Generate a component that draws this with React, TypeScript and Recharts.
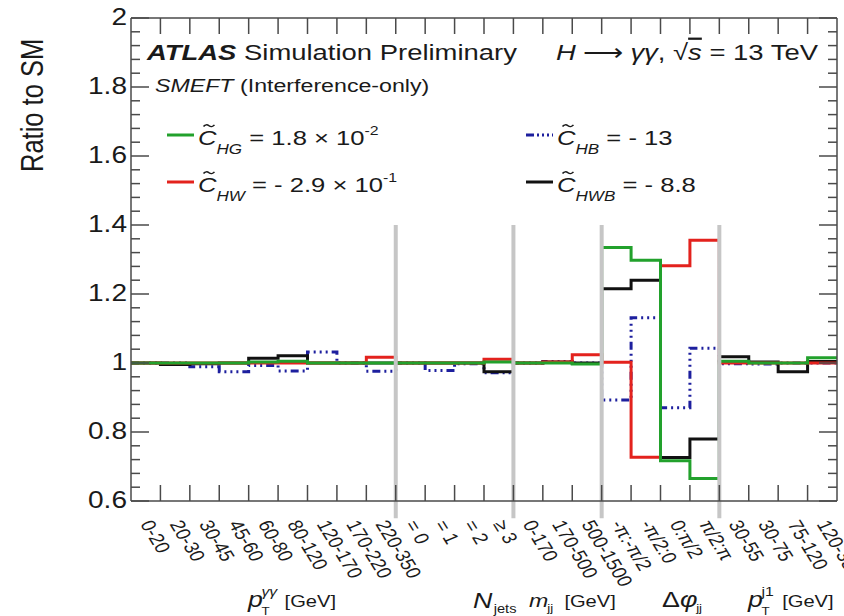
import React from 'react';
import { LineChart, Line, XAxis, YAxis, ReferenceLine } from 'recharts';

// Bin labels of the combined differential distributions
const binLabels = [
  '0-20', '20-30', '30-45', '45-60', '60-80', '80-120', '120-170', '170-220', '220-350',
  '= 0', '= 1', '= 2', '≥ 3',
  '0-170', '170-500', '500-1500',
  '-π:-π/2', '-π/2:0', '0:π/2', 'π/2:π',
  '30-55', '30-75', '75-120', '120-350',
];
// Bin edges where one observable ends and the next begins
const groupBoundaries = [9, 13, 16, 20];

// Ratio to SM per bin for each Wilson coefficient (interference only)
const ratioHG = [
  1.0, 1.0, 1.0, 1.0, 1.003, 1.005, 1.0, 1.0, 1.0,
  1.0, 1.0, 1.0, 1.003,
  1.0, 1.0, 0.997,
  1.335, 1.298, 0.717, 0.665,
  1.005, 1.0, 1.0, 1.015,
];
const ratioHW = [
  1.0, 1.0, 1.0, 1.0, 1.0, 1.0, 1.0, 1.0, 1.017,
  1.0, 1.0, 1.0, 1.011,
  1.0, 1.003, 1.024,
  1.002, 0.727, 1.282, 1.356,
  1.0, 1.0, 1.0, 1.0,
];
const ratioHB = [
  1.0, 1.0, 0.989, 0.975, 0.993, 0.977, 1.032, 1.0, 0.976,
  1.0, 0.978, 0.998, 0.972,
  1.0, 1.004, 1.0,
  0.893, 1.131, 0.870, 1.043,
  0.998, 0.997, 1.0, 1.0,
];
const ratioHWB = [
  1.0, 0.996, 0.998, 1.0, 1.014, 1.021, 1.0, 1.0, 1.0,
  1.0, 1.0, 1.0, 0.975,
  1.0, 1.003, 1.0,
  1.215, 1.240, 0.726, 0.780,
  1.018, 1.003, 0.975, 1.004,
];

// Legend text
const coeffSubscripts = ['HG', 'HW', 'HB', 'HWB'];
const coeffValues = ['1.8 × 10', '- 2.9 × 10', '- 13', '- 8.8'];
const coeffExponents = ['-2', '-1', '', ''];

// Y axis ticks
const yMajorTicks = [0.6, 0.8, 1, 1.2, 1.4, 1.6, 1.8, 2];

const FONT = '"Liberation Sans", Arial, Helvetica, sans-serif';
const SX = 1.22;
const AXIS = '#4a4a4a';
const TEXT = '#1a1a1a';

const seriesStyle: Record<string, { color: string; dash?: string }> = {
  hg: { color: '#22a12c' },
  hw: { color: '#e3221d' },
  hb: { color: '#1d1f9e', dash: '8 4 2 4 2 4 2 4' },
  hwb: { color: '#111111' },
};

const nBins = binLabels.length;
const rows = Array.from({ length: nBins + 1 }, (_, i) => {
  const k = Math.min(i, nBins - 1);
  return { edge: i, hg: ratioHG[k], hw: ratioHW[k], hb: ratioHB[k], hwb: ratioHWB[k] };
});

const edgeTicks = Array.from({ length: nBins - 1 }, (_, i) => i + 1);
const centerTicks = binLabels.map((_, i) => i + 0.5);
const yTicks = Array.from({ length: 36 }, (_, k) => Math.round((0.6 + k * 0.04) * 100) / 100);
const isMajor = (v: number) => yMajorTicks.some((m) => Math.abs(m - v) < 1e-6);

const BottomTick = (props: any) => {
  const { x, y, payload } = props;
  const v = payload.value as number;
  if (Number.isInteger(v)) {
    return <line x1={x} y1={y} x2={x} y2={y - 16} stroke={AXIS} strokeWidth={1.5} />;
  }
  const label = binLabels[Math.floor(v)];
  return (
    <g transform={`translate(${x - 6},${y + 23}) scale(${SX},1) rotate(63)`}>
      <text x={0} y={0} fontSize={17} fontFamily={FONT} fill={TEXT}>{label}</text>
    </g>
  );
};

const TopTick = (props: any) => {
  const { x, y } = props;
  return <line x1={x} y1={y} x2={x} y2={y + 16} stroke={AXIS} strokeWidth={1.5} />;
};

const LeftTick = (props: any) => {
  const { x, y, payload } = props;
  const v = payload.value as number;
  const major = isMajor(v);
  return (
    <g>
      <line x1={x} y1={y} x2={x + (major ? 18 : 9)} y2={y} stroke={AXIS} strokeWidth={1.5} />
      {major && (
        <g transform={`translate(${x - 4},${y + 7}) scale(${SX},1)`}>
          <text x={0} y={0} textAnchor="end" fontSize={23} fontFamily={FONT} fill={TEXT}>
            {String(v)}
          </text>
        </g>
      )}
    </g>
  );
};

const RightTick = (props: any) => {
  const { x, y, payload } = props;
  const major = isMajor(payload.value as number);
  return <line x1={x} y1={y} x2={x - (major ? 18 : 9)} y2={y} stroke={AXIS} strokeWidth={1.5} />;
};

const Stretched = ({ x, y, rotate, children }: any) => (
  <g transform={`translate(${x},${y}) scale(${SX},1)${rotate ? ` rotate(${rotate})` : ''}`}>{children}</g>
);

const LegendEntry = ({ idx, x, y, styleKey }: any) => {
  const st = seriesStyle[styleKey];
  return (
    <g>
      <line x1={x} y1={y - 10} x2={x + 27} y2={y - 10} stroke={st.color} strokeWidth={3}
        strokeDasharray={st.dash ? '8 3 2 3 2 3 2 3' : undefined} />
      <Stretched x={x + 31} y={y}>
        <text x={0} y={0} fontSize={21} fontFamily={FONT} fill={TEXT}>
          <tspan fontStyle="italic">C</tspan>
          <tspan fontStyle="italic" fontSize={14} dy={9}>{coeffSubscripts[idx]}</tspan>
          <tspan dy={-9}>{` = ${coeffValues[idx]}`}</tspan>
          {coeffExponents[idx] && <tspan fontSize={13} dy={-10}>{coeffExponents[idx]}</tspan>}
        </text>
        {/* tilde accent over the C */}
        <path d="M 4.5 -18.5 q 2.2 -3 4.5 -0.8 t 4.5 -0.8" fill="none" stroke={TEXT} strokeWidth={1.3} />
      </Stretched>
    </g>
  );
};

const Overlay = () => (
  <svg width={844} height={616} style={{ position: 'absolute', left: 0, top: 0, pointerEvents: 'none' }}
    fontFamily={FONT} fill={TEXT}>
    {/* y axis title */}
    <Stretched x={43} y={172} rotate={-90}>
      <text x={0} y={0} fontSize={25.5}>Ratio to SM</text>
    </Stretched>

    {/* header */}
    <Stretched x={147} y={60}>
      <text x={0} y={0} fontSize={22.5}>
        <tspan fontWeight="bold" fontStyle="italic">ATLAS</tspan>
        <tspan>{' Simulation Preliminary'}</tspan>
      </text>
    </Stretched>
    <Stretched x={818} y={60}>
      <text x={0} y={0} fontSize={22.5} textAnchor="end">
        <tspan fontStyle="italic">H</tspan>
        <tspan>{' ⟶ '}</tspan>
        <tspan fontStyle="italic">γγ</tspan>
        <tspan>{', √'}</tspan>
        <tspan fontStyle="italic" textDecoration="overline">s</tspan>
        <tspan>{' = 13 TeV'}</tspan>
      </text>
    </Stretched>
    <Stretched x={155} y={92}>
      <text x={0} y={0} fontSize={19}>
        <tspan fontStyle="italic">SMEFT</tspan>
        <tspan>{' (Interference-only)'}</tspan>
      </text>
    </Stretched>

    {/* legend */}
    <LegendEntry idx={0} x={167} y={145} styleKey="hg" />
    <LegendEntry idx={1} x={167} y={192} styleKey="hw" />
    <LegendEntry idx={2} x={526} y={145} styleKey="hb" />
    <LegendEntry idx={3} x={526} y={192} styleKey="hwb" />

    {/* observable titles */}
    <Stretched x={248} y={607}>
      <text x={0} y={0} fontSize={22} fontStyle="italic">p</text>
      <text x={11} y={-11} fontSize={13} fontStyle="italic">γγ</text>
      <text x={11} y={8} fontSize={11}>T</text>
      <text x={30} y={0} fontSize={16.5}>[GeV]</text>
    </Stretched>
    <Stretched x={473} y={608}>
      <text x={0} y={0} fontSize={22} fontStyle="italic">N</text>
      <text x={17} y={5} fontSize={12}>jets</text>
    </Stretched>
    <Stretched x={529} y={607}>
      <text x={0} y={0} fontSize={19} fontStyle="italic">m</text>
      <text x={15} y={5} fontSize={11}>jj</text>
      <text x={29} y={0} fontSize={16.5}>[GeV]</text>
    </Stretched>
    <Stretched x={662} y={607}>
      <text x={0} y={0} fontSize={22}>
        <tspan>Δ</tspan>
        <tspan fontStyle="italic">φ</tspan>
      </text>
      <text x={28} y={5} fontSize={11}>jj</text>
    </Stretched>
    <Stretched x={748} y={607}>
      <text x={0} y={0} fontSize={22} fontStyle="italic">p</text>
      <text x={11} y={-11} fontSize={13}>j1</text>
      <text x={11} y={8} fontSize={11}>T</text>
      <text x={28} y={0} fontSize={16.5}>[GeV]</text>
    </Stretched>
  </svg>
);

export default function App() {
  const order: Array<keyof typeof seriesStyle> = ['hb', 'hwb', 'hw', 'hg'];
  return (
    <div style={{ position: 'absolute', left: 0, top: 0, width: 844, height: 616, background: '#fff' }}>
      <LineChart width={844} height={616} data={rows} margin={{ top: 17, right: 6, bottom: 15, left: 71 }}>
        <XAxis xAxisId="bottom" type="number" dataKey="edge" domain={[0, nBins]} allowDataOverflow
          ticks={[...edgeTicks, ...centerTicks]} interval={0} tickSize={0} tickMargin={0} tickLine={false}
          axisLine={{ stroke: AXIS, strokeWidth: 1.5 }} tick={BottomTick} height={100} />
        <XAxis xAxisId="top" orientation="top" type="number" dataKey="edge" domain={[0, nBins]} allowDataOverflow
          ticks={edgeTicks} interval={0} tickSize={0} tickMargin={0} tickLine={false}
          axisLine={{ stroke: AXIS, strokeWidth: 1.5 }} tick={TopTick} height={1} />
        <YAxis yAxisId="left" type="number" domain={[0.6, 2]} allowDataOverflow ticks={yTicks} interval={0}
          tickSize={0} tickMargin={0} tickLine={false} axisLine={{ stroke: AXIS, strokeWidth: 1.5 }}
          tick={LeftTick} width={60} />
        <YAxis yAxisId="right" orientation="right" type="number" domain={[0.6, 2]} allowDataOverflow ticks={yTicks}
          interval={0} tickSize={0} tickMargin={0} tickLine={false} axisLine={{ stroke: AXIS, strokeWidth: 1.5 }}
          tick={RightTick} width={1} />
        {order.map((key) => (
          <Line key={key} xAxisId="bottom" yAxisId="left" type="stepAfter" dataKey={key}
            stroke={seriesStyle[key].color} strokeWidth={3} strokeDasharray={seriesStyle[key].dash}
            dot={false} activeDot={false} isAnimationActive={false} />
        ))}
        {groupBoundaries.map((b) => (
          <ReferenceLine key={b} xAxisId="bottom" yAxisId="left" ifOverflow="visible"
            segment={[{ x: b, y: 1.4 }, { x: b, y: 0.55 }]} stroke="#c6c6c6" strokeWidth={4} />
        ))}
      </LineChart>
      <Overlay />
    </div>
  );
}
